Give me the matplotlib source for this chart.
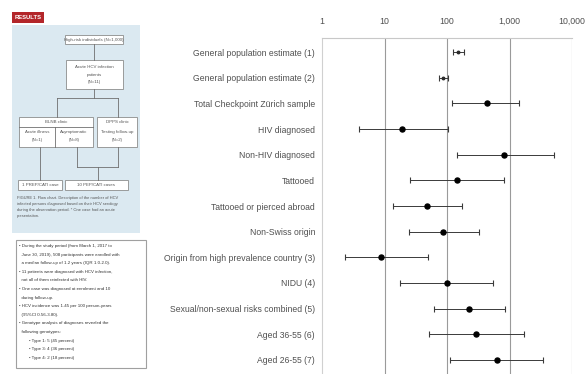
import numpy as np
import matplotlib.pyplot as plt
from matplotlib.patches import Rectangle

# subgroup estimates (point, lower CI, upper CI)
groups = [
    "General population estimate (1)",
    "General population estimate (2)",
    "Total Checkpoint Zürich sample",
    "HIV diagnosed",
    "Non-HIV diagnosed",
    "Tattooed",
    "Tattooed or pierced abroad",
    "Non-Swiss origin",
    "Origin from high prevalence country (3)",
    "NIDU (4)",
    "Sexual/non-sexual risks combined (5)",
    "Aged 36-55 (6)",
    "Aged 26-55 (7)",
]
estimate = [150, 86, 430, 19, 830, 143, 47, 87, 8.8, 99, 229, 290, 640]
lower = [125, 74, 119, 3.9, 143, 26, 13.9, 25, 2.3, 18, 62, 52, 112]
upper = [187, 104, 1420, 104, 5150, 830, 174, 330, 50, 550, 850, 1700, 3400]
xticks = [1, 10, 100, 1000, 10000]
xticklabels = ["1", "10", "100", "1,000", "10,000"]

label_font = ["Liberation Sans", "DejaVu Sans"]
txt = "#505050"

fig = plt.figure(figsize=(5.85, 3.74), dpi=100)

# ---- left side: results panel drawn in pixel coordinates
bg = fig.add_axes([0, 0, 1, 1])
bg.set_xlim(0, 585)
bg.set_ylim(374, 0)
bg.axis("off")


def box(x0, y0, x1, y1, fc="white", ec="#8c8c8c", lw=0.6):
    bg.add_patch(Rectangle((x0, y0), x1 - x0, y1 - y0, fc=fc, ec=ec, lw=lw))


def line(xs, ys):
    bg.plot(xs, ys, color="#6f6f6f", lw=0.6)


def small(x, y, s, size=3.2, ha="center", weight="normal", color="#555555"):
    bg.text(x, y, s, ha=ha, va="center", fontsize=size, color=color,
            family=label_font, fontweight=weight)


bg.add_patch(Rectangle((12, 12), 32, 11, fc="#b3262a", ec="none"))
small(28, 17.5, "RESULTS", size=4.2, weight="bold", color="white")

box(12, 25, 140, 233, fc="#dbe9f1", ec="none")

box(65, 35, 123, 44)
small(94, 39.5, "High-risk individuals (N=1,000)")
line([94, 94], [44, 60])
box(66, 60, 123, 89)
small(94, 67, "Acute HCV infection")
small(94, 74.5, "patients")
small(94, 82, "(N=11)")
line([94, 94], [89, 98])
line([57, 118], [98, 98])
line([57, 57], [98, 117])
line([118, 118], [98, 117])

box(19, 117, 93, 147)
line([19, 93], [127, 127])
line([55, 55], [127, 147])
small(56, 122, "BLNB clinic")
small(37, 132, "Acute illness")
small(37, 140, "(N=1)")
small(74, 132, "Asymptomatic")
small(74, 140, "(N=8)")
box(97, 117, 137, 147)
small(117, 122, "DPPS clinic")
small(117, 132, "Testing follow-up")
small(117, 140, "(N=2)")

line([40, 40], [147, 180])
line([77, 77], [147, 167])
line([77, 118], [167, 167])
line([118, 118], [147, 167])
line([98, 98], [167, 180])
box(18, 180, 62, 190)
small(40, 185, "1 PREP/CATI case")
box(65, 180, 128, 190)
small(96, 185, "10 PEP/CATI cases")

caption = ["FIGURE 1. Flow chart. Description of the number of HCV",
           "infected persons diagnosed based on their HCV serology",
           "during the observation period. * One case had an acute",
           "presentation."]
for i, s in enumerate(caption):
    small(17, 198 + i * 6, s, size=2.9, ha="left")

box(16, 240, 146, 368, ec="#a0a0a0", lw=0.8)
bullets = [
    "• During the study period (from March 1, 2017 to",
    "  June 30, 2019), 508 participants were enrolled with",
    "  a median follow-up of 1.2 years (IQR 1.0-2.0).",
    "• 11 patients were diagnosed with HCV infection,",
    "  not all of them reinfected with HIV.",
    "• One case was diagnosed at enrolment and 10",
    "  during follow-up.",
    "• HCV incidence was 1.45 per 100 person-years",
    "  (95%CI 0.56-3.80).",
    "• Genotype analysis of diagnoses revealed the",
    "  following genotypes:",
    "        • Type 1: 5 (45 percent)",
    "        • Type 3: 4 (36 percent)",
    "        • Type 4: 2 (18 percent)",
]
for i, s in enumerate(bullets):
    small(19, 246 + i * 8.6, s, size=3.2, ha="left", color="#333333")

# ---- right side: forest plot on a log scale
ax = fig.add_axes([322 / 585, 0, 250 / 585, 1 - 38 / 374])
y = np.arange(len(groups))
est = np.array(estimate)
err = np.array([est - np.array(lower), np.array(upper) - est])
ax.errorbar(est, y, xerr=err, fmt="none", ecolor="#3a3a3a",
            elinewidth=0.7, capsize=2, capthick=0.8, zorder=3)
ax.plot(est[2:], y[2:], "o", color="black", ms=3.6, zorder=4)
ax.plot(est[:2], y[:2], "o", color="#2b2b2b", ms=1.8, zorder=4)

ax.set_xscale("log")
ax.set_xlim(1, 10000)
ax.set_ylim(len(groups) - 0.45, -0.55)
ax.set_xticks(xticks)
ax.set_xticklabels(xticklabels, family=label_font, fontsize=6.3, color=txt)
ax.minorticks_off()
ax.xaxis.tick_top()
ax.tick_params(axis="x", length=0, pad=9)
ax.set_yticks(y)
ax.set_yticklabels(groups, family=label_font, fontsize=6.2, color=txt)
ax.tick_params(axis="y", length=0, pad=5)
for v in xticks[1:]:
    ax.axvline(v, color="#9a9a9a", lw=0.8, zorder=1)
for side in ["right", "bottom"]:
    ax.spines[side].set_visible(False)
ax.spines["top"].set_color("#c8c8c8")
ax.spines["left"].set_color("#d0d0d0")
ax.spines["top"].set_linewidth(0.8)
ax.spines["left"].set_linewidth(0.8)

fig.savefig("out.png", dpi=100)
